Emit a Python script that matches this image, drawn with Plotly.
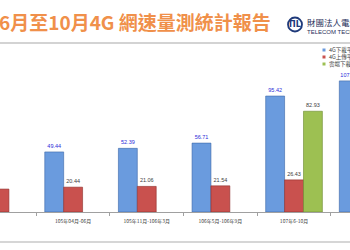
import plotly.graph_objects as go

categories = ["105年01月-03月", "105年04月-06月", "105年11月-106年3月",
              "106年5月-106年9月", "107年6-10月", "107年11月-12月"]
download = [44.0, 49.44, 52.39, 56.71, 95.42, 107.92]
upload = [18.87, 20.44, 21.06, 21.54, 26.43, 27.10]
cloud = [None, None, None, None, 82.93, 90.10]
series_names = ["4G下載平均速率(Mbps)", "4G上傳平均速率(Mbps)", "雲端下載平均速率(Mbps)"]
series_colors = ["#6A9BDE", "#C9514E", "#9DC052"]

W, H = 350, 250
TOP, BOT = 50, 212  # plot area in px


def py(y):
    return (BOT - y) / (BOT - TOP)


def px(x):
    return x / W


FONT = "Noto Sans CJK TC"

fig = go.Figure()
fig.add_trace(go.Bar(
    x=categories, y=download, name=series_names[0],
    marker=dict(color=series_colors[0], line=dict(color="#3A66A8", width=0.6)),
    text=[f"{v:.2f}" for v in download], textposition="outside",
    textfont=dict(size=5.5, color="#2B2BD8", family="Arial"), cliponaxis=False,
))
fig.add_trace(go.Bar(
    x=categories, y=upload, name=series_names[1],
    marker=dict(color=series_colors[1], line=dict(color="#8E2F2C", width=0.6)),
    text=[f"{v:.2f}" for v in upload], textposition="outside",
    textfont=dict(size=5.5, color="#404040", family="Arial"), cliponaxis=False,
))
fig.add_trace(go.Bar(
    x=categories, y=cloud, name=series_names[2],
    marker=dict(color=series_colors[2], line=dict(color="#6C8A30", width=0.6)),
    text=[f"{v:.2f}" if v is not None else "" for v in cloud], textposition="outside",
    textfont=dict(size=5.5, color="#404040", family="Arial"), cliponaxis=False,
))

annotations = [
    dict(text="<b>6月至10月4G 網速量測統計報告</b>", x=px(-3), y=py(22), xref="paper", yref="paper",
         xanchor="left", yanchor="middle", showarrow=False,
         font=dict(family=FONT, size=19, color="#F0904A")),
    dict(text="<b>ΠL</b>", x=px(295), y=py(24.5), xref="paper", yref="paper",
         xanchor="center", yanchor="middle", showarrow=False,
         font=dict(family="DejaVu Sans", size=8, color="#1F3A7A")),
    dict(text="財團法人電信技術中心", x=px(305), y=py(22), xref="paper", yref="paper",
         xanchor="left", yanchor="middle", showarrow=False,
         font=dict(family=FONT, size=8.5, color="#1F2F5A")),
    dict(text="TELECOM TECHNOLOGY CENTER", x=px(305), y=py(32), xref="paper", yref="paper",
         xanchor="left", yanchor="middle", showarrow=False,
         font=dict(family="Arial", size=6, color="#1F2F5A")),
]

shapes = [
    dict(type="circle", xref="paper", yref="paper",
         x0=px(288), x1=px(302), y0=py(31.5), y1=py(17.5),
         line=dict(color="#1F3A7A", width=1.8)),
    dict(type="line", xref="paper", yref="paper", x0=0, x1=1, y0=py(43), y1=py(43),
         line=dict(color="#C4C4C4", width=1.5)),
    dict(type="line", xref="paper", yref="paper", x0=0, x1=1, y0=py(242), y1=py(242),
         line=dict(color="#C8C8C8", width=1.5)),
]

# legend (drawn manually to match compact spacing)
for i, (nm, col) in enumerate(zip(series_names, series_colors)):
    yc = 50 + 7 * i
    shapes.append(dict(type="rect", xref="paper", yref="paper",
                       x0=px(322.5), x1=px(325.5), y0=py(yc + 1.5), y1=py(yc - 1.5),
                       fillcolor=col, line=dict(width=0)))
    annotations.append(dict(text=nm, x=px(327), y=py(yc), xref="paper", yref="paper",
                            xanchor="left", yanchor="middle", showarrow=False,
                            font=dict(family=FONT, size=5.5, color="#404040")))

fig.update_layout(
    width=W, height=H,
    margin=dict(l=0, r=0, t=TOP, b=H - BOT, pad=0, autoexpand=False),
    paper_bgcolor="white", plot_bgcolor="white",
    barmode="group", bargap=0.23, bargroupgap=0,
    showlegend=False,
    annotations=annotations, shapes=shapes,
    xaxis=dict(range=[0.007, 4.76], tickson="boundaries", ticks="outside",
               ticklen=3, tickcolor="#A0A0A0", showline=True, linecolor="#A0A0A0",
               linewidth=1, showgrid=False, ticklabelstandoff=4,
               tickfont=dict(family=FONT, size=5, color="#404040")),
    yaxis=dict(range=[0, (BOT - TOP) / 1.215], visible=False, showgrid=False),
)

fig.write_html("out.html")
